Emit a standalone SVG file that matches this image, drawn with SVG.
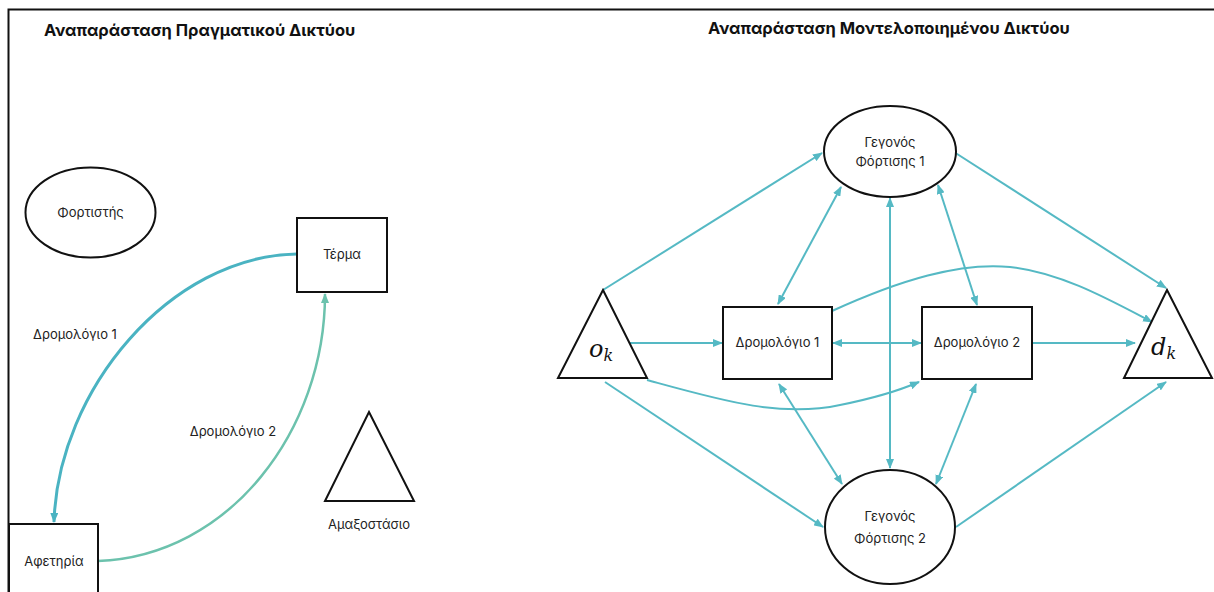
<svg xmlns="http://www.w3.org/2000/svg" width="1214" height="592" viewBox="0 0 1214 592">
<style>
.frame{fill:none;stroke:#111;stroke-width:2}
.node{fill:#fff;stroke:#111;stroke-width:2}
.t{font-family:Inter,"Noto Sans","Liberation Sans",sans-serif;font-size:13px;fill:#222;text-anchor:middle}
.title{font-family:Inter,"Noto Sans","Liberation Sans",sans-serif;font-size:16.5px;font-weight:bold;fill:#111}
.m{font-family:"DejaVu Serif","Liberation Serif",serif;font-style:italic;fill:#111}
.c{fill:none;stroke:#55b9c4;stroke-width:2}
.r1{fill:none;stroke:#4ab3c2;stroke-width:3}
.r2{fill:none;stroke:#6cc2ad;stroke-width:2.5}
</style>
<defs>
<marker id="a" markerWidth="10" markerHeight="8" refX="9" refY="4" orient="auto-start-reverse" markerUnits="userSpaceOnUse"><path d="M0,0 L10,4 L0,8 z" fill="#55b9c4"/></marker>
<marker id="a1" markerWidth="10" markerHeight="8" refX="9" refY="4" orient="auto" markerUnits="userSpaceOnUse"><path d="M0,0 L10,4 L0,8 z" fill="#4ab3c2"/></marker>
<marker id="a2" markerWidth="10" markerHeight="8" refX="9" refY="4" orient="auto" markerUnits="userSpaceOnUse"><path d="M0,0 L10,4 L0,8 z" fill="#6cc2ad"/></marker>
</defs>
<rect width="1214" height="592" fill="#fff"/>
<path class="frame" d="M8.5,592 V9.5 H1214"/>
<text class="title" x="44" y="36">Αναπαράσταση Πραγματικού Δικτύου</text>
<text class="title" x="708" y="34">Αναπαράσταση Μοντελοποιημένου Δικτύου</text>

<g id="connectors">
<path class="r1" d="M297,254 C170,256 58,390 54,522" marker-end="url(#a1)"/>
<path class="r2" d="M98,561 C230,556 325,430 325,294" marker-end="url(#a2)"/>
<path class="c" d="M603,290 L822,153" marker-end="url(#a)"/>
<path class="c" d="M841,187 L778,304" marker-start="url(#a)" marker-end="url(#a)"/>
<path class="c" d="M890,198 L890,468" marker-start="url(#a)" marker-end="url(#a)"/>
<path class="c" d="M938,185 L977,305" marker-start="url(#a)" marker-end="url(#a)"/>
<path class="c" d="M954,152 L1166,288" marker-end="url(#a)"/>
<path class="c" d="M832,311 C900,280 960,262 1010,267 C1060,272 1110,300 1152,322" marker-end="url(#a)"/>
<path class="c" d="M630,343 L722,343" marker-end="url(#a)"/>
<path class="c" d="M833,343 L921,343" marker-start="url(#a)" marker-end="url(#a)"/>
<path class="c" d="M1032,343 L1135,343" marker-end="url(#a)"/>
<path class="c" d="M647,380 C720,400 780,418 840,405 C880,397 905,388 919,382" marker-end="url(#a)"/>
<path class="c" d="M605,382 L823,527" marker-end="url(#a)"/>
<path class="c" d="M779,384 L842,484" marker-start="url(#a)" marker-end="url(#a)"/>
<path class="c" d="M976,384 L936,484" marker-start="url(#a)" marker-end="url(#a)"/>
<path class="c" d="M956,527 L1166,382" marker-end="url(#a)"/>
</g>

<g id="fortistis"><ellipse class="node" cx="90.5" cy="212.5" rx="65" ry="45"/><text class="t" x="90.5" y="217">Φορτιστής</text></g>
<g id="terma"><rect class="node" x="297" y="218" width="90" height="74"/><text class="t" x="342" y="259">Τέρμα</text></g>
<g id="afetiria"><rect class="node" x="9" y="524" width="89" height="80"/><text class="t" x="54" y="566">Αφετηρία</text></g>
<g id="amaxostasio"><path class="node" d="M369,412 L414,501 L325,501 Z"/><text class="t" x="369" y="529">Αμαξοστάσιο</text></g>
<text class="t" x="75" y="339">Δρομολόγιο 1</text>
<text class="t" x="233" y="436">Δρομολόγιο 2</text>

<g id="ok"><path class="node" d="M603,290 L647,378 L558,378 Z"/><text class="m" x="589" y="357" font-size="24">o<tspan font-size="16" dy="4">k</tspan></text></g>
<g id="dk"><path class="node" d="M1167,290 L1212,378 L1124,378 Z"/><text class="m" x="1151" y="355" font-size="24">d<tspan font-size="16" dy="4">k</tspan></text></g>
<g id="drom1"><rect class="node" x="723" y="307" width="109" height="72"/><text class="t" x="777.5" y="347">Δρομολόγιο 1</text></g>
<g id="drom2"><rect class="node" x="922" y="307" width="110" height="72"/><text class="t" x="977" y="347">Δρομολόγιο 2</text></g>
<g id="gegonos1"><ellipse class="node" cx="890" cy="151.5" rx="66" ry="45.5"/><text class="t" x="890" y="147">Γεγονός</text><text class="t" x="890" y="166">Φόρτισης 1</text></g>
<g id="gegonos2"><ellipse class="node" cx="890" cy="527" rx="65" ry="57"/><text class="t" x="890" y="521" font-size="14">Γεγονός</text><text class="t" x="890" y="543" font-size="14">Φόρτισης 2</text></g>
</svg>
